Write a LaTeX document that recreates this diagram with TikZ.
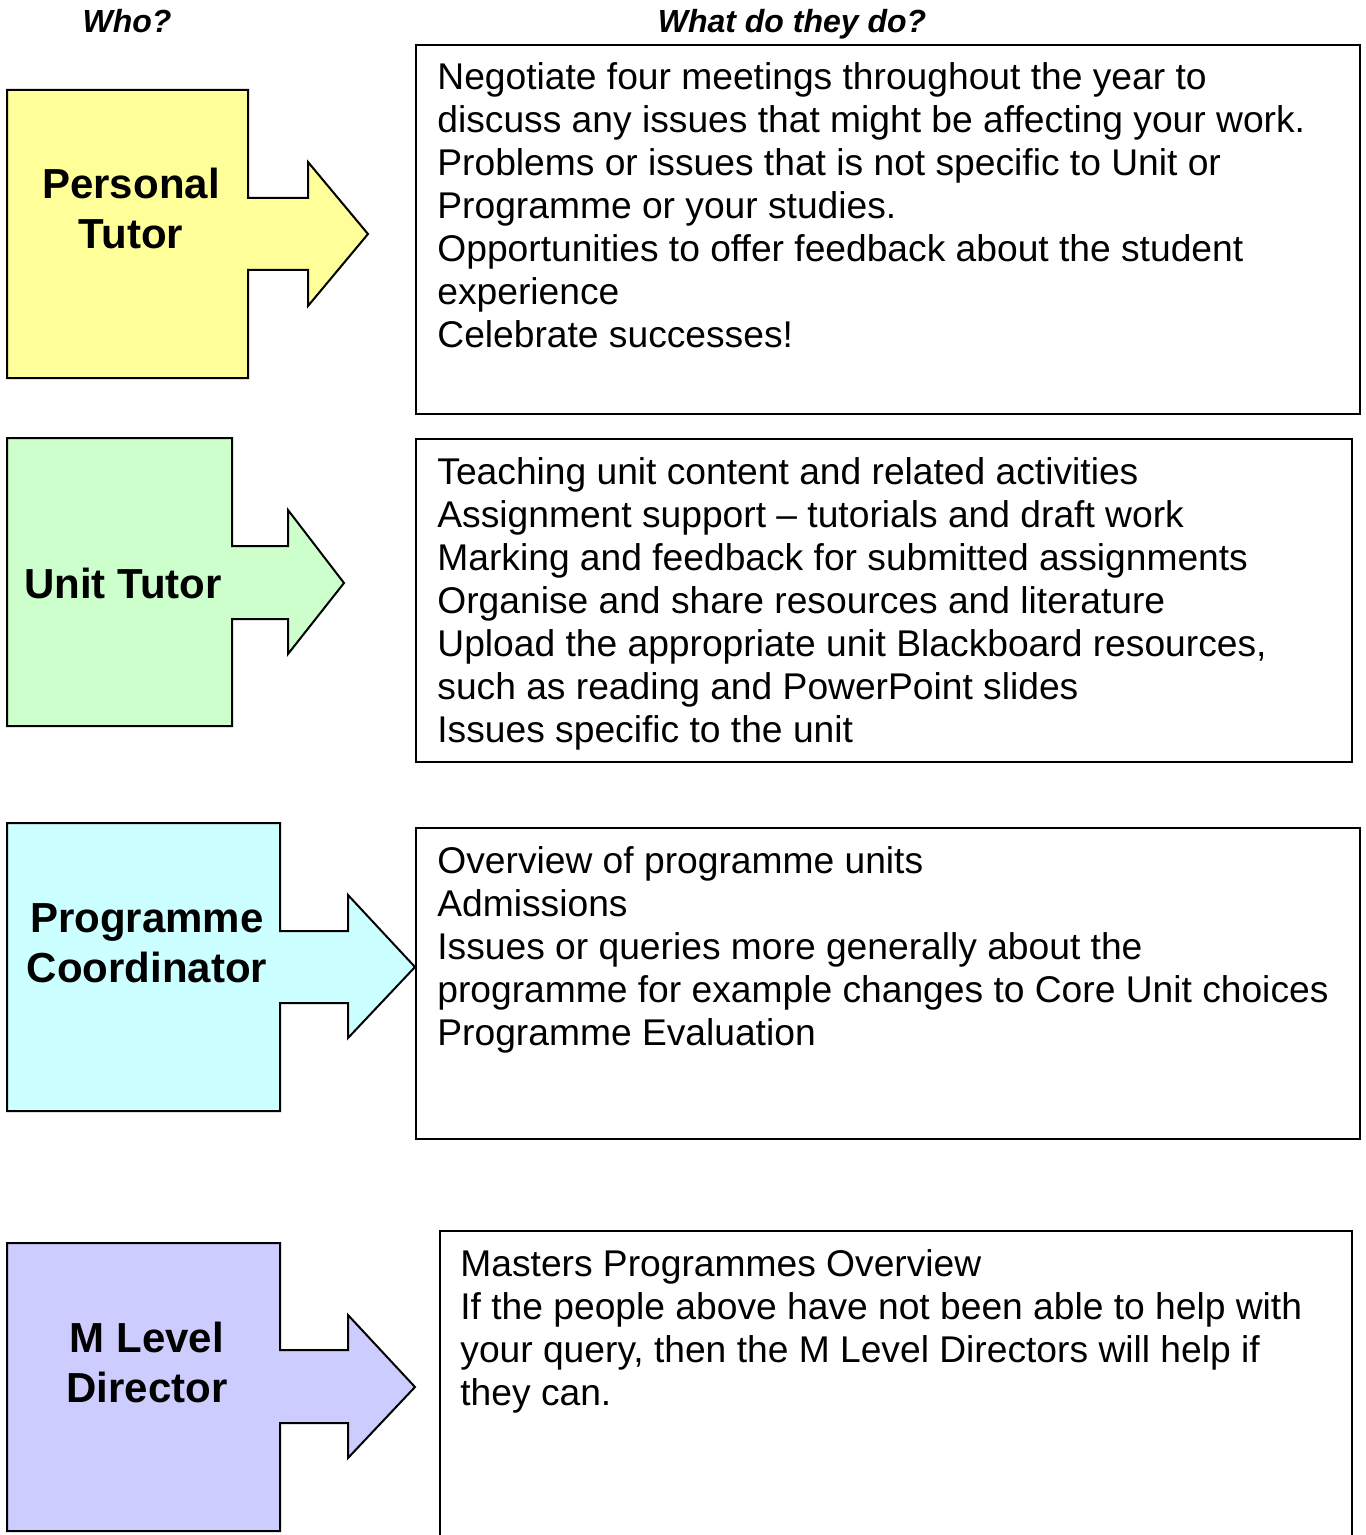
\documentclass[tikz,border=0pt]{standalone}
\usepackage{fontspec}
\setmainfont{Liberation Sans}
\definecolor{tutoryellow}{HTML}{FFFF99}
\definecolor{unitgreen}{HTML}{CCFFCC}
\definecolor{coordcyan}{HTML}{CCFFFF}
\definecolor{directorblue}{HTML}{CCCCFF}
\begin{document}
\begin{tikzpicture}[
  x=0.5pt, y=-0.5pt, line join=miter,
  every node/.style={inner sep=0pt},
  heading/.style={font=\fontsize{16}{19}\selectfont\bfseries\itshape,
    anchor=base},
  role/.style={font=\fontsize{21}{25}\selectfont\bfseries, align=center,
    anchor=base},
  duties/.style={font=\fontsize{18.6}{21.5}\selectfont, align=left,
    anchor=base west},
  dutyframe/.style={line width=1pt},
  roleshape/.style={draw, line width=1pt, fill=#1}]
\useasboundingbox (0,0) rectangle (1365,1535);
% column headings
\node[heading] (whohead) at (127,33) {Who?};
\node[heading] (whathead) at (792,33) {What do they do?};
% role shapes: box with an arrow to the right
\draw[roleshape=tutoryellow] (7,90) -- (248,90) -- (248,198) -- (308,198)
  -- (308,162) -- (368,234) -- (308,306) -- (308,270) -- (248,270)
  -- (248,378) -- (7,378) -- cycle;
\draw[roleshape=unitgreen] (7,438) -- (232,438) -- (232,546) -- (288,546)
  -- (288,510) -- (344,583) -- (288,654) -- (288,619) -- (232,619)
  -- (232,726) -- (7,726) -- cycle;
\draw[roleshape=coordcyan] (7,823) -- (280,823) -- (280,931) -- (348,931)
  -- (348,895) -- (415,967) -- (348,1038) -- (348,1003) -- (280,1003)
  -- (280,1111) -- (7,1111) -- cycle;
\draw[roleshape=directorblue] (7,1243) -- (280,1243) -- (280,1350)
  -- (348,1350) -- (348,1315) -- (415,1387) -- (348,1458) -- (348,1423)
  -- (280,1423) -- (280,1531) -- (7,1531) -- cycle;
% anchored at the baseline of the last line
\node[role] (personal) at (131,249) {Personal\\Tutor};
\node[role] (unit) at (123,598) {Unit Tutor};
\node[role] (coordinator) at (147,982) {Programme\\Coordinator};
\node[role] (director) at (147,1402) {M Level\\Director};
% duty boxes
\draw[dutyframe] (416,45) rectangle (1360,414);
\draw[dutyframe] (416,439) rectangle (1352,762);
\draw[dutyframe] (416,828) rectangle (1360,1139);
\draw[dutyframe] (440,1545) -- (440,1231) -- (1352,1231) -- (1352,1545);
\node[duties] (personalduties) at (437,348)
  {Negotiate four meetings throughout the year to\\
   discuss any issues that might be affecting your work.\\
   Problems or issues that is not specific to Unit or\\
   Programme or your studies.\\
   Opportunities to offer feedback about the student\\
   experience\\
   Celebrate successes!};
\node[duties] (unitduties) at (437,742)
  {Teaching unit content and related activities\\
   Assignment support – tutorials and draft work\\
   Marking and feedback for submitted assignments\\
   Organise and share resources and literature\\
   Upload the appropriate unit Blackboard resources,\\
   such as reading and PowerPoint slides\\
   Issues specific to the unit};
\node[duties] (coordinatorduties) at (437,1045)
  {Overview of programme units\\
   Admissions\\
   Issues or queries more generally about the\\
   programme for example changes to Core Unit choices\\
   Programme Evaluation};
\node[duties] (directorduties) at (460,1405)
  {Masters Programmes Overview\\
   If the people above have not been able to help with\\
   your query, then the M Level Directors will help if\\
   they can.};
\end{tikzpicture}
\end{document}
